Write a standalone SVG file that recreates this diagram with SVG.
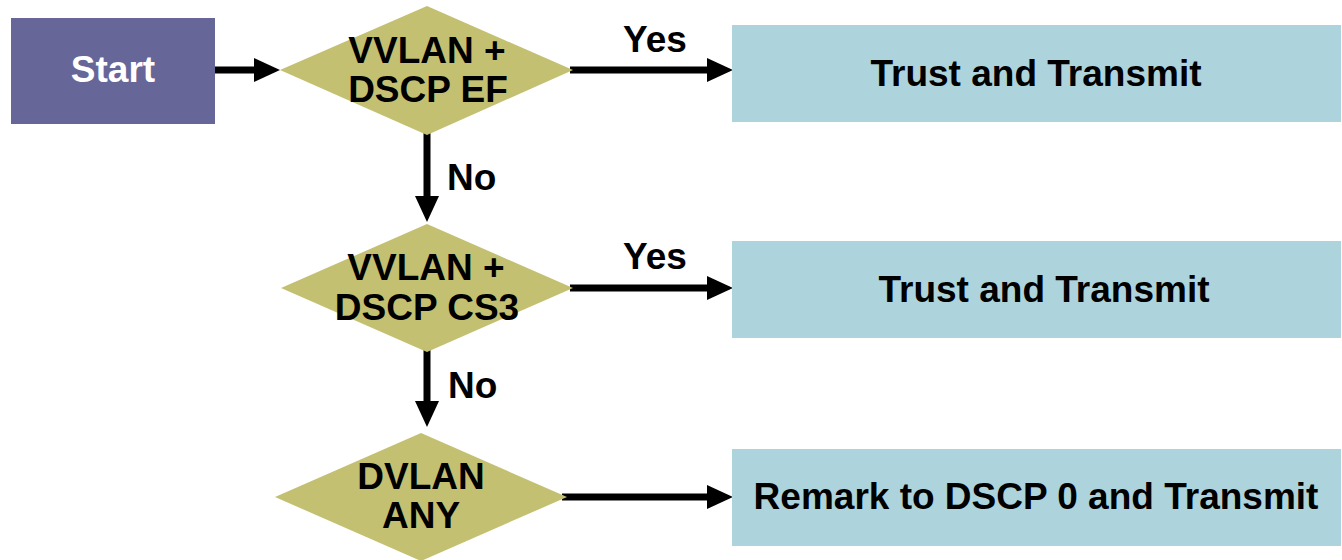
<svg xmlns="http://www.w3.org/2000/svg" width="1342" height="560" viewBox="0 0 1342 560">
  <defs>
    <style>
      .lbl { font-family: "Liberation Sans", Arial, sans-serif; font-weight: bold; font-size: 37px; fill: #000; text-anchor: middle; }
      .lbl-l { font-family: "Liberation Sans", Arial, sans-serif; font-weight: bold; font-size: 37px; fill: #000; }
      .start { fill: #666699; }
      .start-t { fill: #ffffff; }
      .decision { fill: #c4c072; }
      .action { fill: #add3dc; }
      .conn { stroke: #000; stroke-width: 7; fill: none; marker-end: url(#head); }
    </style>
    <marker id="head" markerUnits="userSpaceOnUse" markerWidth="26" markerHeight="24" viewBox="0 0 26 24" refX="0" refY="12" orient="auto">
      <path d="M0,0 L26,12 L0,24 z" fill="#000"/>
    </marker>
  </defs>
  <rect width="1342" height="560" fill="#ffffff"/>

  <!-- flow connectors -->
  <g id="connectors">
    <line class="conn" x1="215" y1="70" x2="254" y2="70"/>
    <line class="conn" x1="570" y1="70" x2="707" y2="70"/>
    <line class="conn" x1="427" y1="133" x2="427" y2="196"/>
    <line class="conn" x1="570" y1="288" x2="707" y2="288"/>
    <line class="conn" x1="427" y1="350" x2="427" y2="401"/>
    <line class="conn" x1="562" y1="497" x2="707" y2="497"/>
    <text class="lbl-l" x="623" y="52">Yes</text>
    <text class="lbl-l" x="447" y="190">No</text>
    <text class="lbl-l" x="623" y="269">Yes</text>
    <text class="lbl-l" x="448" y="398">No</text>
  </g>

  <g id="start">
    <rect class="start" x="11" y="18" width="204" height="106"/>
    <text class="lbl start-t" x="113" y="82">Start</text>
  </g>

  <g id="check-ef">
    <polygon class="decision" points="280,70 427,6 573,70 427,135"/>
    <text class="lbl" x="427" y="63">VVLAN +</text>
    <text class="lbl" x="428" y="102">DSCP EF</text>
  </g>

  <g id="check-cs3">
    <polygon class="decision" points="281,288 427,224 573,288 427,352"/>
    <text class="lbl" x="426" y="280">VVLAN +</text>
    <text class="lbl" x="427" y="320">DSCP CS3</text>
  </g>

  <g id="check-dvlan">
    <polygon class="decision" points="275,497 421,433 567,497 421,561"/>
    <text class="lbl" x="421" y="489">DVLAN</text>
    <text class="lbl" x="421" y="528">ANY</text>
  </g>

  <g id="trust-1">
    <rect class="action" x="732" y="25" width="609" height="97"/>
    <text class="lbl" x="1036" y="86">Trust and Transmit</text>
  </g>

  <g id="trust-2">
    <rect class="action" x="732" y="241" width="609" height="97"/>
    <text class="lbl" x="1044" y="302">Trust and Transmit</text>
  </g>

  <g id="remark">
    <rect class="action" x="732" y="449" width="609" height="97"/>
    <text class="lbl" x="1036" y="509">Remark to DSCP 0 and Transmit</text>
  </g>
</svg>
